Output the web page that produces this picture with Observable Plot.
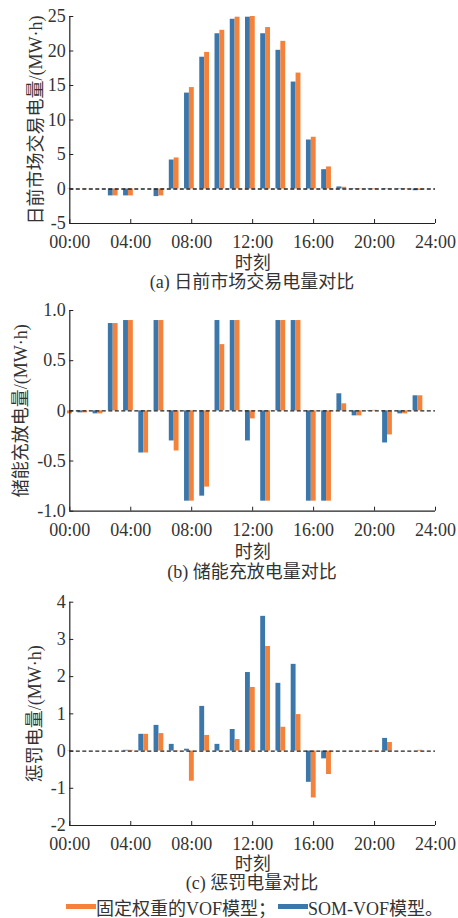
<!DOCTYPE html>
<html>
<head>
<meta charset="utf-8">
<script src="https://cdn.jsdelivr.net/npm/d3@7"></script>
<script src="https://cdn.jsdelivr.net/npm/@observablehq/plot@0.6"></script>
<style>
  body { margin: 0; background: #fff; width: 458px; height: 918px; overflow: hidden; }
  svg, svg text { font-family: 'Liberation Serif', 'Noto Sans CJK SC', serif !important; }
  .cap { width: 458px; font-family: 'Liberation Serif','Noto Sans CJK SC',serif; font-size: 18px; color: #333; position: relative; }
  .cap span { position: absolute; left: 252px; transform: translateX(-50%); white-space: nowrap; }
  svg { display: block; }
  .legend { position: relative; height: 23px; font-family: 'Liberation Serif','Noto Sans CJK SC',serif; font-size: 18px; color: #333; }
  .legend .item { position: absolute; top: 0; display: flex; align-items: center; height: 23px; white-space: nowrap; }
  .legend .sw { display: inline-block; width: 30px; height: 5px; }
</style>
</head>
<body>
<div id="root"></div>
<script>
// ---- data ----
const hours = [0, 1, 2, 3, 4, 5, 6, 7, 8, 9, 10, 11, 12, 13, 14, 15, 16, 17, 18, 19, 20, 21, 22, 23];
const xTicks = [0, 4, 8, 12, 16, 20, 24];
const xTickLabels = ["00:00", "04:00", "08:00", "12:00", "16:00", "20:00", "24:00"];

// (a) day-ahead market trade energy, MW·h
const tradeSOM   = [0, 0, 0, -1.0, -1.0, 0, -1.1, 4.2, 13.9, 19.1, 22.5, 24.6, 24.9, 22.5, 20.1, 15.5, 7.1, 2.8, 0.3, -0.05, -0.05, -0.05, -0.05, -0.25];
const tradeFixed = [-0.05, -0.05, 0, -1.0, -1.0, 0, -1.0, 4.5, 14.7, 19.8, 23.0, 24.9, 25.0, 23.4, 21.4, 16.8, 7.5, 3.2, 0.25, -0.05, -0.1, -0.05, -0.05, -0.2];
const tradeYTicks = [-5, 0, 5, 10, 15, 20, 25];
const tradeYLabels = ["-5", "0", "5", "10", "15", "20", "25"];

// (b) storage charge/discharge energy, MW·h
const storSOM   = [0, -0.02, -0.03, 0.87, 0.9, -0.42, 0.9, -0.30, -0.9, -0.85, 0.9, 0.9, -0.30, -0.9, 0.9, 0.9, -0.9, -0.9, 0.17, -0.05, -0.005, -0.32, -0.03, 0.15];
const storFixed = [-0.03, -0.02, -0.03, 0.87, 0.9, -0.42, 0.9, -0.40, -0.9, -0.76, 0.66, 0.9, -0.08, -0.9, 0.9, 0.9, -0.9, -0.9, 0.07, -0.05, 0.005, -0.24, -0.03, 0.15];
const storYTicks = [-1, -0.5, 0, 0.5, 1];
const storYLabels = ["-1.0", "-0.5", "0", "0.5", "1.0"];

// (c) penalty energy, MW·h
const penSOM   = [0, 0, 0, 0, 0.02, 0.45, 0.69, 0.18, 0.05, 1.2, 0.18, 0.58, 2.11, 3.62, 1.82, 2.33, -0.84, -0.21, 0, 0, 0, 0.34, 0, 0];
const penFixed = [0.01, 0, 0, 0, 0.02, 0.45, 0.47, 0.01, -0.81, 0.42, 0.01, 0.31, 1.71, 2.81, 0.64, 0.98, -1.26, -0.63, 0, 0, 0.01, 0.23, 0, 0.02];
const penYTicks = [-2, -1, 0, 1, 2, 3, 4];
const penYLabels = ["-2", "-1", "0", "1", "2", "3", "4"];

const seriesNames = ["固定权重的VOF模型；", "SOM-VOF模型。"];
const captions = ["(a) 日前市场交易电量对比", "(b) 储能充放电量对比", "(c) 惩罚电量对比"];
const yLabels = ["日前市场交易电量/(MW·h)", "储能充放电量/(MW·h)", "惩罚电量/(MW·h)"];
const xLabel = "时刻";

// ---- style ----
const BLUE = "#3b77ab";
const ORANGE = "#f4823a";
const AXIS = "#222";
const FONT = "'Liberation Serif','Noto Sans CJK SC',serif";
// bar placement in hour units relative to the hour
const BAR_W = 0.32, BAR_OFF = -0.15;

function panel(o) {
  const blue = hours.map((h, i) => ({h, v: o.som[i]}));
  const orange = hours.map((h, i) => ({h, v: o.fixed[i]}));
  return Plot.plot({
    width: 458,
    height: o.height,
    marginLeft: 69.3,
    marginRight: 23,
    marginTop: o.marginTop,
    marginBottom: o.marginBottom,
    style: {fontFamily: FONT, fontSize: "18px", color: "#333", background: "white", overflow: "visible"},
    x: {domain: [0, 24]},
    y: {domain: o.yDomain},
    marks: [
      Plot.rectY(blue, {x1: d => d.h + BAR_OFF - BAR_W, x2: d => d.h + BAR_OFF, y: "v", fill: BLUE}),
      Plot.rectY(orange, {x1: d => d.h + BAR_OFF, x2: d => d.h + BAR_OFF + BAR_W, y: "v", fill: ORANGE}),
      Plot.ruleY([0], {stroke: AXIS, strokeWidth: 1.3, strokeDasharray: "4,2.5"}),
      Plot.ruleX([0], {stroke: AXIS, strokeWidth: 1.2}),
      Plot.ruleY([o.yDomain[0]], {stroke: AXIS, strokeWidth: 1.2}),
      Plot.axisY({ticks: o.yTicks, tickFormat: d => o.yTickLabels[o.yTicks.indexOf(d)], tickSize: -4, tickPadding: 8,
        stroke: AXIS, fill: "#333", label: o.yLabel, labelAnchor: "center", labelArrow: "none", labelOffset: o.labelOffset}),
      Plot.axisX({ticks: xTicks, tickFormat: d => xTickLabels[xTicks.indexOf(d)], tickSize: -4, tickPadding: 16,
        stroke: AXIS, fill: "#333", label: xLabel, labelAnchor: "center", labelArrow: "none", labelOffset: o.xLabelOffset})
    ]
  });
}

const root = document.getElementById("root");
function caption(text, h, lh) {
  const d = document.createElement("div");
  d.className = "cap";
  d.style.height = h + "px";
  d.innerHTML = `<span style="line-height:${lh}px;top:0">${text}</span>`;
  return d;
}

root.appendChild(panel({som: tradeSOM, fixed: tradeFixed, yDomain: [-5, 25], yTicks: tradeYTicks, yTickLabels: tradeYLabels,
  yLabel: yLabels[0], height: 270, marginTop: 16, marginBottom: 47, labelOffset: 41, xLabelOffset: 45}));
root.appendChild(caption(captions[0], 30, 24));
root.appendChild(panel({som: storSOM, fixed: storFixed, yDomain: [-1, 1], yTicks: storYTicks, yTickLabels: storYLabels,
  yLabel: yLabels[1], height: 262, marginTop: 10, marginBottom: 51.3, labelOffset: 56, xLabelOffset: 47}));
root.appendChild(caption(captions[1], 23, 20));
root.appendChild(panel({som: penSOM, fixed: penFixed, yDomain: [-2, 4], yTicks: penYTicks, yTickLabels: penYLabels,
  yLabel: yLabels[2], height: 288, marginTop: 16.7, marginBottom: 48, labelOffset: 42, xLabelOffset: 44}));
root.appendChild(caption(captions[2], 22, 20));

const leg = document.createElement("div");
leg.className = "legend";
leg.innerHTML = `<div class="item" style="left:66px"><span class="sw" style="background:${ORANGE}"></span>${seriesNames[0]}</div>` +
  `<div class="item" style="left:278px"><span class="sw" style="background:${BLUE}"></span>${seriesNames[1]}</div>`;
root.appendChild(leg);
</script>
</body>
</html>
